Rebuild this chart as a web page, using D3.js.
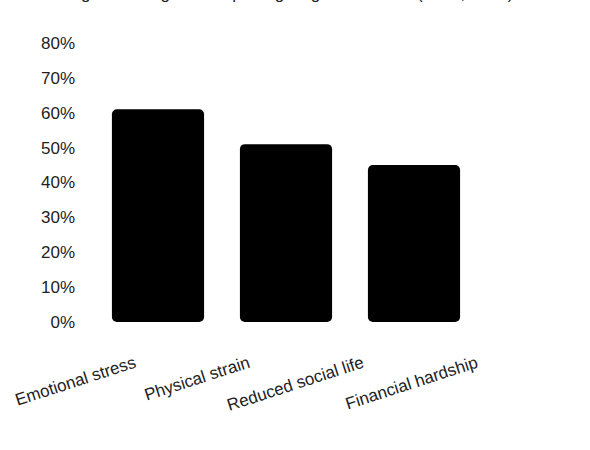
<!DOCTYPE html>
<html>
<head>
<meta charset="utf-8">
<script src="https://cdn.jsdelivr.net/npm/d3@7"></script>
<style>
  html, body { margin: 0; padding: 0; background: #fff; }
  svg { display: block; }
  text { font-family: "Liberation Sans", Arial, sans-serif; }
</style>
</head>
<body>
<svg id="chart" width="590" height="450"></svg>
<script>
const titleText = "Percentage of Caregivers Reporting Negative Effects (2020, 2023)";
const categories = ["Emotional stress", "Physical strain", "Reduced social life", "Financial hardship"];
const values = [61, 51, 45, null];
const yTicks = [0, 10, 20, 30, 40, 50, 60, 70, 80];

const svg = d3.select("#chart");

const y = d3.scaleLinear().domain([0, 80]).range([322, 43]);
const x = d3.scaleBand().domain(categories).range([94, 606]).paddingInner(0.28).paddingOuter(0.14);
const labelX = d3.scalePoint().domain(categories).range([137, 479]);

// title (clipped by the top edge, as in the reference: only descenders visible)
svg.append("text")
  .attr("x", 13).attr("y", -1)
  .attr("font-size", 17)
  .attr("fill", "#222")
  .text(titleText);

// y axis labels
const yAxis = d3.axisLeft(y).tickValues(yTicks).tickFormat(d => d + "%").tickSize(0).tickPadding(0);
const gy = svg.append("g").attr("transform", "translate(75,0)").call(yAxis);
gy.select(".domain").remove();
gy.selectAll("text").attr("font-size", 17).attr("fill", "#222").attr("font-family", "Liberation Sans, Arial, sans-serif");

// bars
const data = categories.map((c, i) => ({ c, v: values[i] })).filter(d => d.v != null && d.v > 0);
svg.append("g").selectAll("rect").data(data).join("rect")
  .attr("x", d => x(d.c))
  .attr("y", d => y(d.v))
  .attr("width", x.bandwidth())
  .attr("height", d => y(0) - y(d.v))
  .attr("rx", 5).attr("ry", 5)
  .attr("fill", "#000");

// category labels
svg.append("g").selectAll("text").data(categories).join("text")
  .attr("transform", d => `translate(${labelX(d)},367) rotate(-18)`)
  .attr("text-anchor", "end")
  .attr("font-size", 17)
  .attr("fill", "#222")
  .text(d => d);
</script>
</body>
</html>
